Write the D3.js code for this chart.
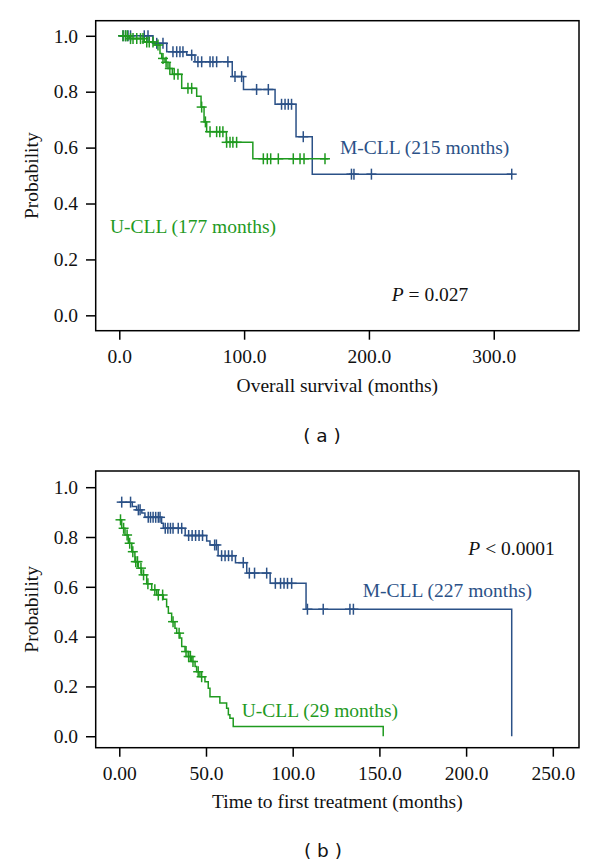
<!DOCTYPE html>
<html>
<head>
<meta charset="utf-8">
<script src="https://cdn.jsdelivr.net/npm/d3@7"></script>
<style>
  html, body { margin: 0; padding: 0; background: #fff; }
  svg { display: block; }
</style>
</head>
<body>
<svg id="chart" width="600" height="866"></svg>
<script>
// ---------------- DATA ----------------
// Panel (a): Overall survival
const aXTicks = [0, 100, 200, 300];
const aXTickLabels = ["0.0", "100.0", "200.0", "300.0"];
const yTicks = [0, 0.2, 0.4, 0.6, 0.8, 1.0];
const yTickLabels = ["0.0", "0.2", "0.4", "0.6", "0.8", "1.0"];

const aMTimes = [0, 27, 38, 54, 60.6, 90.5, 99.5, 124.8, 141.6, 154.6];
const aMSurv  = [1.0, 0.973, 0.943, 0.931, 0.907, 0.854, 0.808, 0.755, 0.639, 0.505];
const aMEnd = 315;
const aMCensor = [3, 5, 7, 9, 20, 23, 30, 35, 43, 46, 48.6, 51, 58, 63, 66, 72.7, 75, 78, 87, 92.7, 98, 110, 119.4, 130, 132.8, 135.4, 138, 147.4, 186, 188, 202, 314.4];

const aUTimes = [0, 8, 20, 28.6, 32.6, 34, 36.6, 39, 42.5, 50, 62, 65.5, 67.9, 70, 85.8, 107];
const aUSurv  = [1.0, 0.99, 0.978, 0.967, 0.937, 0.919, 0.905, 0.883, 0.862, 0.812, 0.784, 0.745, 0.692, 0.657, 0.619, 0.56];
const aUEnd = 167.5;
const aUCensor = [3, 5, 6.5, 9, 11, 14, 17, 19, 22, 24, 27, 31, 35, 37.5, 40.5, 44, 47, 55, 58, 66, 69, 72.7, 78, 80.5, 83, 86, 88.7, 91, 94, 115.4, 118.6, 121.3, 127.4, 139.4, 144.8, 148, 164.8];

// Panel (b): Time to first treatment
const bXTicks = [0, 50, 100, 150, 200, 250];
const bXTickLabels = ["0.00", "50.0", "100.0", "150.0", "200.0", "250.0"];

const bMTimes = [0, 7.5, 10, 13, 14.8, 24.4, 25.4, 38, 50.4, 52.3, 57, 67, 73.5, 87, 107.7, 226.3];
const bMSurv  = [0.94, 0.922, 0.909, 0.896, 0.879, 0.855, 0.835, 0.806, 0.784, 0.768, 0.725, 0.697, 0.655, 0.614, 0.51, 0];
const bMEnd = 226.3;
const bMCensor = [1.4, 6.5, 11, 12, 16.7, 18, 19.5, 21, 22.5, 23.5, 26.5, 28, 29.5, 31, 34, 36, 40, 42, 44, 46, 48, 55, 56, 59, 61, 63, 65, 71.5, 75, 78, 85, 90, 93, 95, 97, 99.4, 108.5, 117.6, 133, 135];

const bUTimes = [0, 1.4, 3.3, 5.2, 7.2, 9, 11, 12.9, 15.8, 18.7, 21.6, 25.4, 27.3, 28.3, 30.2, 32.1, 33.1, 35, 36, 37.9, 39.8, 41.8, 43.7, 44.6, 46.5, 49.4, 51.3, 52.3, 58, 61.9, 62.9, 63.8, 65.7, 152.2];
const bUSurv  = [0.869, 0.835, 0.808, 0.775, 0.741, 0.701, 0.675, 0.648, 0.612, 0.588, 0.567, 0.55, 0.52, 0.494, 0.46, 0.434, 0.414, 0.394, 0.36, 0.34, 0.32, 0.3, 0.28, 0.259, 0.239, 0.219, 0.193, 0.159, 0.133, 0.112, 0.086, 0.072, 0.039, 0];
const bUEnd = 152.2;
const bUCensor = [0.7, 2.5, 4.5, 6, 7.8, 9.5, 10.5, 12.5, 14, 16.5, 20.5, 22.5, 25, 31, 34.5, 38.5, 40, 41, 42.5, 45.5, 47.5];

// Colours
const BLUE = "#2b5187";
const GREEN = "#1f9a1f";

// ---------------- DRAW ----------------
const svg = d3.select("#chart");
const FONT = "Liberation Serif, Times New Roman, serif";
const FS = 19.5;

function panel(cfg) {
  const x = d3.scaleLinear().domain(cfg.xDomain).range([95.7, 579]);
  const y = d3.scaleLinear().domain(cfg.yDomain).range([cfg.bottom, cfg.top]);
  const g = svg.append("g");

  // curves
  const line = d3.line().x(d => x(d[0])).y(d => y(d[1])).curve(d3.curveStepAfter);
  cfg.series.forEach(s => {
    const pts = s.times.map((t, i) => [t, s.surv[i]]);
    if (s.end > s.times[s.times.length - 1]) pts.push([s.end, s.surv[s.surv.length - 1]]);
    g.append("path").attr("d", line(pts)).attr("fill", "none")
      .attr("stroke", s.color).attr("stroke-width", 1.5);
    const cg = g.append("g").attr("stroke", s.color).attr("stroke-width", 1.5);
    s.censor.forEach(t => {
      const i = Math.max(0, d3.bisectRight(s.times, t) - 1);
      const cx = x(t), cy = y(s.surv[i]);
      cg.append("line").attr("x1", cx - 5).attr("x2", cx + 5).attr("y1", cy).attr("y2", cy);
      cg.append("line").attr("x1", cx).attr("x2", cx).attr("y1", cy - 5.5).attr("y2", cy + 5.5);
    });
  });

  // frame
  g.append("rect").attr("x", 95.7).attr("y", cfg.top).attr("width", 579 - 95.7)
    .attr("height", cfg.bottom - cfg.top).attr("fill", "none").attr("stroke", "#000").attr("stroke-width", 1.5);

  // axes
  const xa = g.append("g").attr("transform", `translate(0,${cfg.bottom})`)
    .call(d3.axisBottom(x).tickValues(cfg.xTicks).tickFormat((d, i) => cfg.xLabels[i]).tickSize(9).tickPadding(9.8));
  const ya = g.append("g").attr("transform", `translate(95.7,0)`)
    .call(d3.axisLeft(y).tickValues(yTicks).tickFormat((d, i) => yTickLabels[i]).tickSize(9.7).tickPadding(8));
  [xa, ya].forEach(a => {
    a.select(".domain").remove();
    a.selectAll(".tick line").attr("stroke", "#000").attr("stroke-width", 1.5);
    a.selectAll("text").attr("font-family", FONT).attr("font-size", FS).attr("fill", "#111");
  });

  // axis titles
  g.append("text").attr("x", (95.7 + 579) / 2).attr("y", cfg.titleY).attr("text-anchor", "middle")
    .attr("font-family", FONT).attr("font-size", FS).attr("fill", "#111").text(cfg.xTitle);
  g.append("text").attr("transform", `translate(38,${(cfg.top + cfg.bottom) / 2}) rotate(-90)`)
    .attr("text-anchor", "middle").attr("font-family", FONT).attr("font-size", FS).attr("fill", "#111").text("Probability");

  // annotations
  cfg.notes.forEach(n => {
    const t = g.append("text").attr("x", x(n.t)).attr("y", y(n.s))
      .attr("font-family", FONT).attr("font-size", FS).attr("fill", n.color);
    if (n.italicP) {
      t.append("tspan").attr("font-style", "italic").text("P");
      t.append("tspan").text(n.text);
    } else t.text(n.text);
  });

  // caption
  svg.append("text").attr("x", cfg.capX).attr("y", cfg.capY).attr("text-anchor", "middle")
    .attr("font-family", "DejaVu Sans, sans-serif").attr("font-size", 18.5).attr("fill", "#111")
    .style("white-space", "pre").text(cfg.caption);
}

panel({
  xDomain: [-18.9, 368.3], yDomain: [-0.055, 1.054], top: 20.7, bottom: 330.7,
  xTicks: aXTicks, xLabels: aXTickLabels, xTitle: "Overall survival (months)", titleY: 391.7,
  series: [
    { times: aMTimes, surv: aMSurv, end: aMEnd, censor: aMCensor, color: BLUE },
    { times: aUTimes, surv: aUSurv, end: aUEnd, censor: aUCensor, color: GREEN }
  ],
  notes: [
    { t: 176.8, s: 0.577, text: "M-CLL (215 months)", color: BLUE },
    { t: -7.5, s: 0.293, text: "U-CLL (177 months)", color: GREEN },
    { t: 218.3, s: 0.052, text: " = 0.027", color: "#111", italicP: true }
  ],
  caption: "( a )", capX: 322, capY: 441.7
});

panel({
  xDomain: [-13.6, 265.1], yDomain: [-0.046, 1.065], top: 471, bottom: 747.7,
  xTicks: bXTicks, xLabels: bXTickLabels, xTitle: "Time to first treatment (months)", titleY: 808,
  series: [
    { times: bMTimes, surv: bMSurv, end: bMEnd, censor: bMCensor, color: BLUE },
    { times: bUTimes, surv: bUSurv, end: bUEnd, censor: bUCensor, color: GREEN }
  ],
  notes: [
    { t: 201.3, s: 0.728, text: " < 0.0001", color: "#111", italicP: true },
    { t: 140.4, s: 0.558, text: "M-CLL (227 months)", color: BLUE },
    { t: 70.6, s: 0.076, text: "U-CLL (29 months)", color: GREEN }
  ],
  caption: "( b )", capX: 323, capY: 857.3
});
</script>
</body>
</html>
